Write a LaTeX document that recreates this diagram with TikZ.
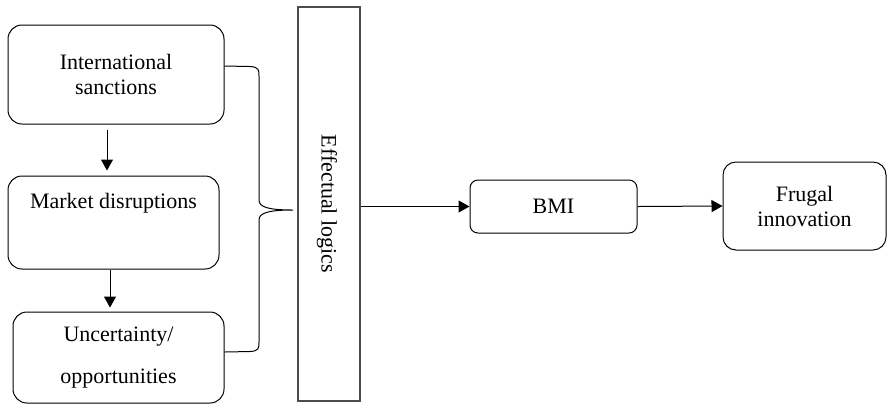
\documentclass[tikz,border=0pt]{standalone}
\usepackage{fontspec}
\setmainfont{Liberation Serif}
\usetikzlibrary{arrows.meta}

\begin{document}
\begin{tikzpicture}[x=0.5pt,y=-0.5pt,
  font=\fontsize{11}{12.5}\selectfont,
  box/.style={draw,line width=0.5pt,rounded corners=7pt,align=center,inner sep=0pt},
  arr/.style={-{Triangle[length=5.5pt,width=6pt]},line width=0.5pt}]
\useasboundingbox (0,0) rectangle (888,404);

\node[box,minimum width=108pt,minimum height=49.5pt] (sanc) at (116,74.5) {International\\sanctions};
\node[box,minimum width=105.5pt,minimum height=46.5pt,text height=8pt,text depth=22.5pt] (mkt) at (113.5,222.5) {Market disruptions};
\node[box,minimum width=105.5pt,minimum height=45.5pt] (unc) at (118.5,357.5) {Uncertainty/\\[8.5pt]opportunities};

\node[draw=black!70,line width=0.75pt,minimum width=31pt,minimum height=197pt,inner sep=0pt] (eff) at (329,204) {};
\node[rotate=-90] (efftxt) at (327,204) {Effectual logics};

\node[box,rounded corners=4pt,minimum width=83.5pt,minimum height=26.5pt] (bmi) at (553.5,206.5) {BMI};
\node[box,rounded corners=6.5pt,minimum width=81.5pt,minimum height=44pt] (frug) at (804.5,206) {Frugal\\innovation};

\draw[arr,shorten <=2.5pt,shorten >=2.5pt] ([xshift=-4.5pt]sanc.south) -- ([xshift=-3.25pt]mkt.north);
\draw[arr,shorten >=2pt] ([xshift=-1.75pt]mkt.south) -- ([xshift=-4.25pt]unc.north);

% brace
\coordinate (tip) at (293,210);
\draw[line width=0.5pt] ([yshift=4.25pt]sanc.east) -- (250,66.5) .. controls (259,67) and (259,70) .. (259,76)
  -- (259,200) .. controls (259,207) and (268,210) .. (tip)
  .. controls (268,210) and (259,213) .. (259,220)
  -- (259,342) .. controls (259,348) and (259,351) .. (250,351.5) -- ([yshift=2.75pt]unc.east);

\draw[arr] (eff.east |- bmi.west) -- (bmi.west);
\draw[arr] (bmi.east) -- (frug.west);
\end{tikzpicture}
\end{document}
